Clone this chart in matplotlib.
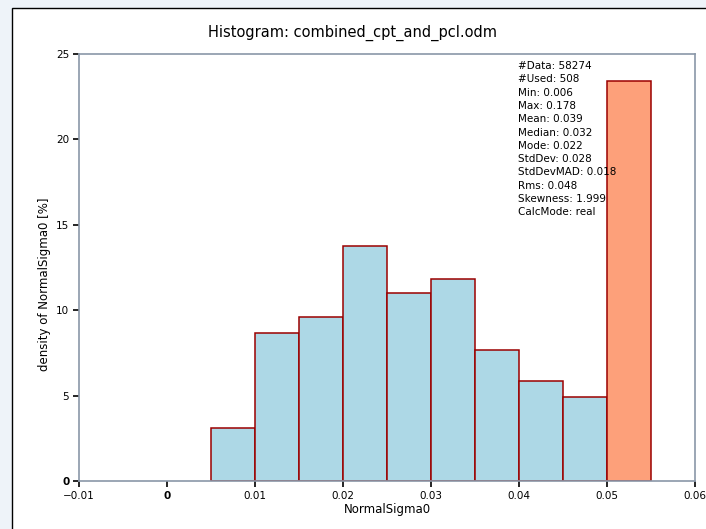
import numpy as np
import matplotlib
matplotlib.use("Agg")
import matplotlib.pyplot as plt
from matplotlib.patches import Rectangle

# histogram bins (NormalSigma0) and density [%]
bin_edges = [0.005, 0.010, 0.015, 0.020, 0.025, 0.030, 0.035, 0.040, 0.045, 0.050, 0.055]
density = [3.1, 8.65, 9.6, 13.75, 11.0, 11.8, 7.65, 5.85, 4.9, 23.4]
overflow = [False] * 9 + [True]   # last bin collects values above 0.05

stats_lines = [
    "#Data: 58274",
    "#Used: 508",
    "Min: 0.006",
    "Max: 0.178",
    "Mean: 0.039",
    "Median: 0.032",
    "Mode: 0.022",
    "StdDev: 0.028",
    "StdDevMAD: 0.018",
    "Rms: 0.048",
    "Skewness: 1.999",
    "CalcMode: real",
]

x_ticks = [-0.01, 0, 0.01, 0.02, 0.03, 0.04, 0.05, 0.06]
x_labels = ["\u22120.01", "0", "0.01", "0.02", "0.03", "0.04", "0.05", "0.06"]
y_ticks = [0, 5, 10, 15, 20, 25]

SPINE = "#8a97a8"

fig = plt.figure(figsize=(7.06, 5.29), dpi=100)
fig.patch.set_facecolor("#eef3f9")
# white panel with black border on left/top
fig.patches.append(Rectangle((12 / 706, -0.01), 1.0, 1 - 8 / 529 + 0.01,
                             transform=fig.transFigure, facecolor="white",
                             edgecolor="black", lw=1.0, zorder=-1))

ax = fig.add_axes([79 / 706, 48 / 529, 616 / 706, 427 / 529])
ax.set_facecolor("white")
ax.set_zorder(1)
ax.set_axisbelow(False)

lefts = np.array(bin_edges[:-1])
widths = np.diff(bin_edges)
colors = ["#fda07a" if o else "#add8e6" for o in overflow]
ax.bar(lefts, density, width=widths, align="edge", color=colors,
       edgecolor="#9b0000", lw=1.1, zorder=2)

ax.set_xlim(-0.01, 0.06)
ax.set_ylim(0, 25)
ax.set_xticks(x_ticks)
ax.set_xticklabels(x_labels)
ax.set_yticks(y_ticks)
for lbl in ax.get_xticklabels() + ax.get_yticklabels():
    if lbl.get_text() == "0":
        lbl.set_fontweight("bold")

for s in ax.spines.values():
    s.set_color(SPINE)
    s.set_linewidth(1.2)
    s.set_zorder(3)
ax.tick_params(axis="x", direction="out", length=4, width=1.2, color="black",
               labelsize=7.5, pad=3)
ax.tick_params(axis="y", direction="out", length=4, width=1.2, color="black",
               labelsize=7.5, pad=3)

ax.set_xlabel("NormalSigma0", fontsize=8.5, labelpad=2)
ax.set_ylabel("density of NormalSigma0 [%]", fontsize=8.5)
ax.yaxis.set_label_coords(-0.045, 0.46)

fig.text(0.5, 1 - 33 / 529, "Histogram: combined_cpt_and_pcl.odm",
         ha="center", va="center", fontsize=10.5)

y0 = 66
for i, line in enumerate(stats_lines):
    fig.text(518 / 706, 1 - (y0 + i * 13.3) / 529, line, ha="left", va="center",
             fontsize=7.5, zorder=5)

fig.savefig("out.png", dpi=100)
